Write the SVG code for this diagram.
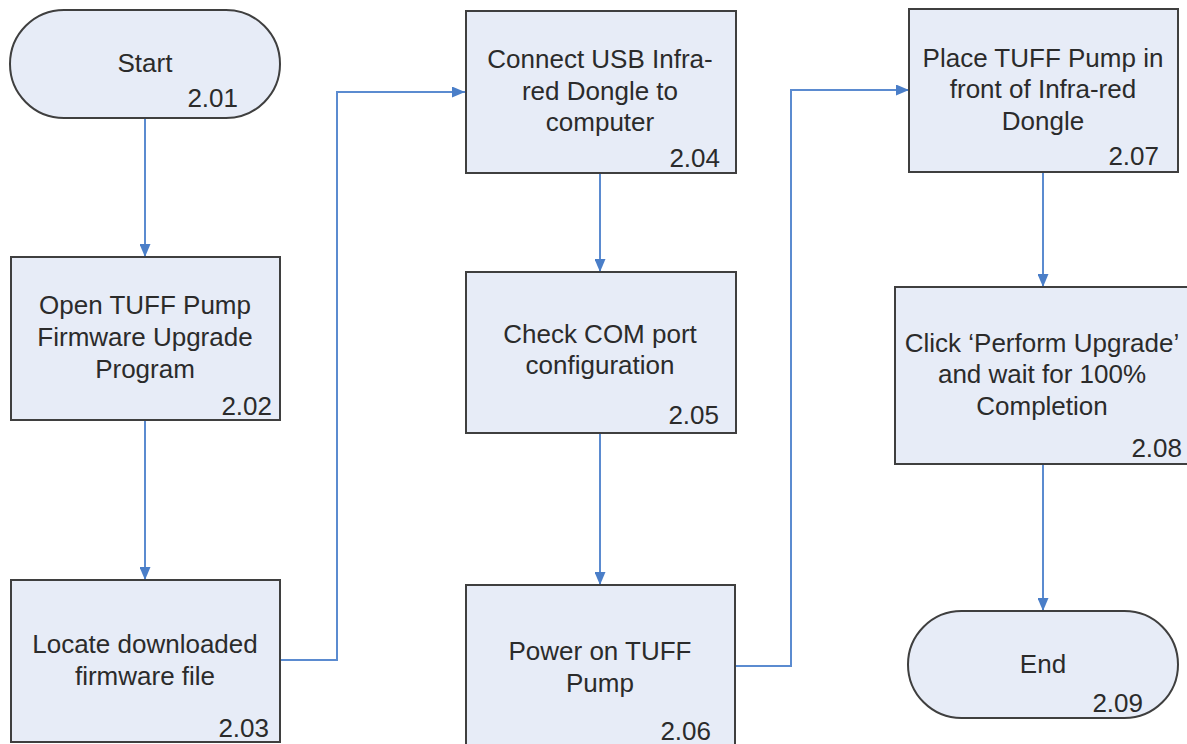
<svg xmlns="http://www.w3.org/2000/svg" width="1187" height="744" viewBox="0 0 1187 744">
<style>
.n{fill:#e7ecf7;stroke:#3f3f3f;stroke-width:2}
.t{font-family:"Liberation Sans",Arial,sans-serif;font-size:26px;fill:#2b2b2b;text-anchor:middle}
.r{font-family:"Liberation Sans",Arial,sans-serif;font-size:26px;fill:#2b2b2b;text-anchor:end}
.c{fill:none;stroke:#5b8bd0;stroke-width:2}
</style>
<defs>
<marker id="ah" viewBox="0 0 13 11" refX="13" refY="5.5" markerWidth="13" markerHeight="11" markerUnits="userSpaceOnUse" orient="auto">
<path d="M0,0 L13,5.5 L0,11 Z" fill="#4a7ec8"/>
</marker>
</defs>
<rect width="1187" height="744" fill="#ffffff"/>
<g id="connectors">
<path class="c" d="M145,118 V257" marker-end="url(#ah)"/>
<path class="c" d="M145,420 V580" marker-end="url(#ah)"/>
<path class="c" d="M280,660 H337 V92 H465" marker-end="url(#ah)"/>
<path class="c" d="M600,173 V272" marker-end="url(#ah)"/>
<path class="c" d="M600,433 V585" marker-end="url(#ah)"/>
<path class="c" d="M735,666 H791 V90 H909" marker-end="url(#ah)"/>
<path class="c" d="M1043,172 V287" marker-end="url(#ah)"/>
<path class="c" d="M1043,464 V611" marker-end="url(#ah)"/>
</g>
<g id="n201">
<rect class="n" x="10" y="10" width="270" height="108" rx="54" ry="54"/>
<text class="t" x="145" y="72">Start</text>
<text class="r" x="238" y="107">2.01</text>
</g>
<g id="n202">
<rect class="n" x="11" y="257" width="269" height="163"/>
<text class="t" x="145" y="314">Open TUFF Pump</text>
<text class="t" x="145" y="346">Firmware Upgrade</text>
<text class="t" x="145" y="378">Program</text>
<text class="r" x="272" y="415">2.02</text>
</g>
<g id="n203">
<rect class="n" x="11" y="580" width="269" height="162"/>
<text class="t" x="145" y="653">Locate downloaded</text>
<text class="t" x="145" y="685">firmware file</text>
<text class="r" x="269" y="737">2.03</text>
</g>
<g id="n204">
<rect class="n" x="466" y="11" width="270" height="162"/>
<text class="t" x="600" y="68">Connect USB Infra-</text>
<text class="t" x="600" y="100">red Dongle to</text>
<text class="t" x="600" y="131">computer</text>
<text class="r" x="720" y="167">2.04</text>
</g>
<g id="n205">
<rect class="n" x="466" y="272" width="270" height="161"/>
<text class="t" x="600" y="343">Check COM port</text>
<text class="t" x="600" y="374">configuration</text>
<text class="r" x="719" y="424">2.05</text>
</g>
<g id="n206">
<rect class="n" x="466" y="585" width="269" height="170"/>
<text class="t" x="600" y="660">Power on TUFF</text>
<text class="t" x="600" y="692">Pump</text>
<text class="r" x="711" y="740">2.06</text>
</g>
<g id="n207">
<rect class="n" x="909" y="9" width="269" height="163"/>
<text class="t" x="1043" y="67">Place TUFF Pump in</text>
<text class="t" x="1043" y="98">front of Infra-red</text>
<text class="t" x="1043" y="130">Dongle</text>
<text class="r" x="1159" y="165">2.07</text>
</g>
<g id="n208">
<rect class="n" x="895" y="287" width="300" height="177"/>
<text class="t" x="1042" y="352">Click ‘Perform Upgrade’</text>
<text class="t" x="1042" y="383">and wait for 100%</text>
<text class="t" x="1042" y="415">Completion</text>
<text class="r" x="1182" y="457">2.08</text>
</g>
<g id="n209">
<rect class="n" x="908" y="611" width="270" height="107" rx="53.5" ry="53.5"/>
<text class="t" x="1043" y="673">End</text>
<text class="r" x="1143" y="712">2.09</text>
</g>
</svg>
